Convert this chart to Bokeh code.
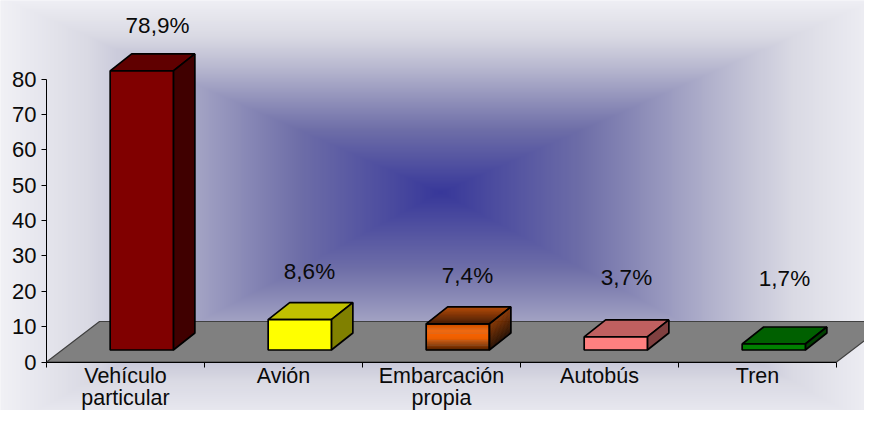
import numpy as np
from bokeh.core.properties import value
from bokeh.embed import file_html
from bokeh.models import FixedTicker, LinearAxis, Range1d
from bokeh.plotting import figure
from bokeh.resources import INLINE

categories = ["Vehículo\nparticular", "Avión", "Embarcación\npropia", "Autobús", "Tren"]
values = [78.9, 8.6, 7.4, 3.7, 1.7]
value_labels = ["78,9%", "8,6%", "7,4%", "3,7%", "1,7%"]
y_ticks = [0, 10, 20, 30, 40, 50, 60, 70, 80]

front_colors = ["#800000", "#ffff00", "#ff6600", "#ff8080", "#008000"]
top_colors = ["#600000", "#c0c000", "#b34700", "#c06060", "#006000"]
side_colors = ["#400000", "#808000", "#602800", "#804040", "#004000"]

# picture pixel <-> data
X0, XS = 46.0, 158.0
Y0, YS = 361.5, 3.5375
def X(px): return (px - X0) / XS
def Y(py): return (Y0 - py) / YS

W, H = 864, 410
FONT = "Liberation Sans"
FS = "22px"
INK = "#0a0a0a"
EDGE = 1.7

p = figure(width=W, height=H, output_backend="svg", toolbar_location=None,
           x_range=Range1d(X(0), X(W)), y_range=Range1d(Y(H), Y(0)),
           min_border=0, x_axis_type=None, y_axis_type=None)
p.outline_line_color = None
p.grid.visible = False
p.background_fill_color = "#f0f0f5"
p.border_fill_color = "#f0f0f5"

# rectangular path gradient of the chart area
cx, cy = 440.0, 192.0
px = np.arange(0, W, 2) + 1.0
py = np.arange(H, 0, -2) - 1.0
gx, gy = np.meshgrid(px, py)
t = np.maximum(np.abs(gx - cx) / 440.0,
               np.where(gy < cy, (cy - gy) / 195.0, (gy - cy) / 236.0))
t = np.clip(t, 0, 1)
stops = [0, 0.32, 0.47, 0.64, 0.8, 1]
r_ch = np.interp(t, stops, [56, 110, 144, 184, 218, 241])
g_ch = np.interp(t, stops, [56, 110, 144, 184, 218, 241])
b_ch = np.interp(t, stops, [154, 168, 186, 208, 228, 246])
img = r_ch.astype(np.uint32) | (g_ch.astype(np.uint32) << 8) | \
      (b_ch.astype(np.uint32) << 16) | (np.uint32(255) << 24)
p.image_rgba(image=[img.astype(np.uint32)], x=X(0), y=Y(H), dw=W / XS, dh=H / YS)

# floor
n = len(categories)
FDX, FDY = 53 / XS, 40.5 / YS
p.patch([0, n, n + FDX, FDX], [0, 0, FDY, FDY], fill_color="#808080",
        line_color="#404040", line_width=1.2)

# bars
BAR_OFF, BAR_W = 0.403, 0.4
BASE = 3.39
DX, DY = 0.136, 4.8

def ramp(stops, f):
    fs = [s[0] for s in stops]
    return "#%02x%02x%02x" % tuple(int(np.interp(f, fs, [s[1][k] for s in stops])) for k in range(3))

for i, v in enumerate(values):
    l, r = i + BAR_OFF, i + BAR_OFF + BAR_W
    b, t_ = BASE, BASE + v
    if i == 2:
        steps = 24
        fs = [(0, (200, 80, 0)), (0.25, (255, 102, 0)), (0.55, (235, 94, 0)), (1, (70, 28, 0))]
        for s in range(steps):
            a, e = s / steps, (s + 1) / steps
            p.quad(left=l, right=r, top=t_ - v * a, bottom=t_ - v * e - 0.05,
                   fill_color=ramp(fs, a), line_color=None)
        ts = [(0, (70, 28, 0)), (1, (185, 74, 0))]
        for s in range(steps):
            a, e = s / steps, (s + 1) / steps
            xs = [l + DX * a, r + DX * a, r + DX * e, l + DX * e]
            ys = [t_ + DY * a, t_ + DY * a, t_ + DY * e, t_ + DY * e]
            p.patch(xs, ys, fill_color=ramp(ts, a), line_color=ramp(ts, a), line_width=0.5)
        ss = [(0, (40, 16, 0)), (1, (140, 56, 0))]
        for s in range(steps):
            a, e = s / steps, (s + 1) / steps
            xs = [r, r + DX, r + DX, r]
            ys = [b + v * a, b + DY + v * a, b + DY + v * e, b + v * e]
            p.patch(xs, ys, fill_color=ramp(ss, a), line_color=ramp(ss, a), line_width=0.5)
        fc = tc = sc = None
    else:
        fc, tc, sc = front_colors[i], top_colors[i], side_colors[i]
    p.patch([l, r, r + DX, l + DX], [t_, t_, t_ + DY, t_ + DY], fill_color=tc, line_color="black", line_width=EDGE)
    p.patch([r, r + DX, r + DX, r], [b, b + DY, t_ + DY, t_], fill_color=sc, line_color="black", line_width=EDGE)
    p.patch([l, r, r, l], [b, b, t_, t_], fill_color=fc, line_color="black", line_width=EDGE)

# axes
yaxis = LinearAxis(ticker=FixedTicker(ticks=y_ticks), fixed_location=0, bounds=(0, 80),
                   axis_line_color="black", axis_line_width=1,
                   major_tick_line_color="black", major_tick_in=0, major_tick_out=5,
                   minor_tick_line_color=None,
                   major_label_text_font=FONT, major_label_text_font_size=FS,
                   major_label_text_color=INK, major_label_standoff=5)
p.add_layout(yaxis, "left")
xaxis = LinearAxis(ticker=FixedTicker(ticks=list(range(n + 1))), fixed_location=0, bounds=(0, n),
                   axis_line_color="black", axis_line_width=1.2,
                   major_tick_line_color="black", major_tick_in=0, major_tick_out=5,
                   minor_tick_line_color=None, major_label_text_font_size="0px",
                   major_label_text_color=None)
p.add_layout(xaxis, "below")

# category labels (two lines kept inside the visible height)
p.text(x=[i + 0.5 for i in range(n)], y=[Y(363)] * n, text=categories,
       text_font=value(FONT), text_font_size=value("21.5px"), text_color=INK,
       text_align="center", text_baseline="top", text_line_height=0.95)

# value labels
lab_px = [157, 309, 467, 626, 784]
lab_py = [25, 271, 275, 277, 278]
p.text(x=[X(a) for a in lab_px], y=[Y(b) for b in lab_py], text=value_labels,
       text_font=value(FONT), text_font_size=value("22.5px"), text_color=INK,
       text_align="center", text_baseline="middle")

open("out.html", "w").write(file_html(p, INLINE))
